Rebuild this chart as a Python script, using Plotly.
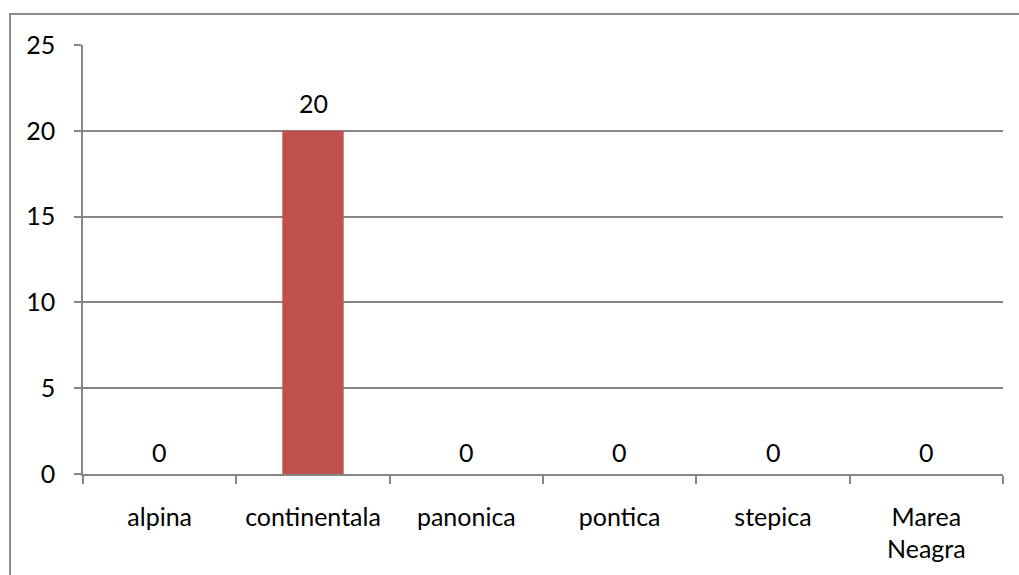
import plotly.graph_objects as go

# Regions and counts
categories = ["alpina", "continentala", "panonica", "pontica", "stepica", "Marea<br>Neagra"]
values = [0, 20, 0, 0, 0, 0]
y_ticks = [0, 5, 10, 15, 20, 25]

bar_color = "#C0504D"
grey = "#868686"
font_family = "Lato, 'Open Sans', sans-serif"
font_size = 25

fig = go.Figure()
fig.add_trace(go.Bar(
    x=categories,
    y=values,
    marker=dict(color=bar_color, line=dict(width=0)),
    width=0.4,
    hoverinfo="x+y",
))

# value labels above each bar
for c, v in zip(categories, values):
    fig.add_annotation(
        x=c, y=v, text=str(v), showarrow=False,
        yanchor="bottom", yshift=11 if v > 0 else 5,
        font=dict(family=font_family, size=font_size, color="#000000"),
    )

# outer chart frame
fig.add_shape(
    type="rect", xref="paper", yref="paper",
    x0=-0.0793, x1=1.2, y0=-0.5, y1=1.0723,
    line=dict(color="#8c8c8c", width=2), fillcolor="rgba(0,0,0,0)",
    layer="below",
)

fig.update_layout(
    width=1019, height=575,
    margin=dict(l=83, r=16, t=45, b=101),
    paper_bgcolor="white", plot_bgcolor="white",
    showlegend=False,
    font=dict(family=font_family, size=font_size, color="#000000"),
)
fig.update_xaxes(
    showline=True, linecolor=grey, linewidth=1.5,
    ticks="outside", tickson="boundaries", ticklen=8, tickcolor=grey, tickwidth=1.5,
    showgrid=False, ticklabelstandoff=20,
    tickfont=dict(family=font_family, size=font_size),
)
fig.update_yaxes(
    range=[0, 25], tickvals=y_ticks,
    showline=True, linecolor=grey, linewidth=1.5,
    ticks="outside", ticklen=7, tickcolor=grey, tickwidth=1.5,
    showgrid=True, gridcolor=grey, gridwidth=1.5,
    zeroline=False, ticklabelstandoff=14,
    tickfont=dict(family=font_family, size=font_size),
)

fig.write_html("out.html")
